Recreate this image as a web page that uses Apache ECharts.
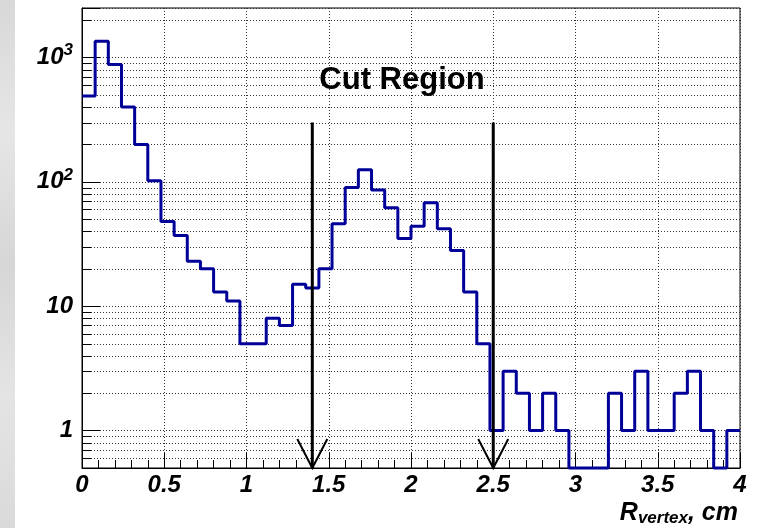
<!DOCTYPE html>
<html>
<head>
<meta charset="utf-8">
<script src="https://cdn.jsdelivr.net/npm/echarts@6/dist/echarts.min.js"></script>
<style>
html,body{margin:0;padding:0;background:#fff;}
#c{width:760px;height:528px;}
</style>
</head>
<body>
<div id="c"></div>
<script>
// ---- data ----
const xMin = 0, xMax = 4, binWidth = 0.08;
const counts = [490, 1350, 880, 400, 200, 102, 48, 37, 23, 20,
                13, 11, 5, 5, 8, 7, 15, 14, 20, 46,
                90, 125, 86, 62, 35, 44, 68, 42, 28, 13,
                5, 1, 3, 2, 1, 2, 1, 0, 0, 0,
                2, 1, 3, 1, 1, 2, 3, 1, 0, 1];
const yMin = 0.5, yMax = 2500;
const xTicks = [0, 0.5, 1, 1.5, 2, 2.5, 3, 3.5, 4];
const yDecades = [1, 10, 100, 1000];
const yMinor = [0.6, 0.7, 0.8, 0.9, 2, 3, 4, 5, 6, 7, 8, 9,
                20, 30, 40, 50, 60, 70, 80, 90,
                200, 300, 400, 500, 600, 700, 800, 900, 2000];
const cutPositions = [1.4, 2.5];
const arrowTop = 300;
const cutLabel = 'Cut Region';

// ---- build ----
const FONT = '"Liberation Sans", Arial, Helvetica, sans-serif';
const stepData = counts.map((c, i) => [xMin + i * binWidth, c > 0 ? c : yMin]);
stepData.push([xMax, counts[counts.length - 1] > 0 ? counts[counts.length - 1] : yMin]);

const chart = echarts.init(document.getElementById('c'), null, {renderer: 'canvas'});

function yLabel(v) {
  const l = Math.log10(v);
  const e = Math.round(l);
  if (Math.abs(l - e) > 1e-6) return '';
  if (yDecades.indexOf(Math.pow(10, e)) < 0) return '';
  if (e === 0) return '{n|1}';
  if (e === 1) return '{n|10}';
  return '{n|10}{s|' + e + '}';
}

const option = {
  animation: false,
  backgroundColor: '#ffffff',
  grid: {left: 82, right: 20, top: 8, bottom: 60, show: true, borderColor: '#000', borderWidth: 1, backgroundColor: '#fff'},
  xAxis: {
    type: 'value', min: xMin, max: xMax, interval: 0.5,
    axisLine: {show: true, onZero: false, lineStyle: {color: '#000', width: 1}},
    axisTick: {show: true, inside: true, length: 15, lineStyle: {color: '#000', width: 1}},
    minorTick: {show: true, splitNumber: 5, length: 8, lineStyle: {color: '#000', width: 1}},
    splitLine: {show: true, lineStyle: {color: '#333', type: [1, 2], width: 1}},
    axisLabel: {
      margin: 5, color: '#000', fontSize: 24, fontWeight: 'bold', fontStyle: 'italic', fontFamily: FONT,
      formatter: v => String(v)
    }
  },
  yAxis: {
    type: 'log', logBase: 10, min: yMin, max: yMax,
    axisLine: {show: true, lineStyle: {color: '#000', width: 1}},
    axisTick: {show: true, inside: true, length: 18, lineStyle: {color: '#000', width: 1}},
    splitLine: {show: true, lineStyle: {color: '#333', type: [1, 2], width: 1}},
    axisLabel: {
      margin: 9, color: '#000', formatter: yLabel,
      rich: {
        n: {fontSize: 24, fontWeight: 'bold', fontStyle: 'italic', fontFamily: FONT, color: '#000'},
        s: {fontSize: 17, fontWeight: 'bold', fontStyle: 'italic', fontFamily: FONT, color: '#000', padding: [0, 0, 14, 0]}
      }
    }
  },
  graphic: [
    {type: 'rect', left: 0, top: 0, z: -10, shape: {width: 15, height: 528},
     style: {fill: new echarts.graphic.LinearGradient(0, 0, 1, 1, [
       {offset: 0, color: '#d8d8d8'}, {offset: 0.25, color: '#e6e6e6'}, {offset: 0.5, color: '#d6d6d6'},
       {offset: 0.75, color: '#e4e4e4'}, {offset: 1, color: '#dadada'}])}},
    {type: 'text', x: 402, y: 80, z: 50,
     style: {text: cutLabel, font: 'bold 31px ' + FONT, fill: '#000', align: 'center', verticalAlign: 'middle'}},
    {type: 'text', x: 738, y: 527, z: 50,
     style: {
       text: '{r|R}{s|vertex}{r|, cm}', align: 'right', verticalAlign: 'bottom',
       rich: {
         r: {fontSize: 25, fontWeight: 'bold', fontStyle: 'italic', fontFamily: FONT, fill: '#000', color: '#000'},
         s: {fontSize: 17, fontWeight: 'bold', fontStyle: 'italic', fontFamily: FONT, fill: '#000', color: '#000', padding: [10, 0, 0, 0]}
       }
     }}
  ],
  series: [
    {
      type: 'custom', name: 'minorGrid', silent: true, z: 1,
      data: yMinor.map(v => [xMin, v]),
      renderItem: function (params, api) {
        const p = api.coord([xMin, api.value(1)]);
        const cs = params.coordSys;
        const y = Math.round(p[1]) + 0.5;
        return {type: 'group', children: [
          {type: 'line', shape: {x1: cs.x, y1: y, x2: cs.x + cs.width, y2: y},
           style: {stroke: '#333', lineDash: [1, 2], lineWidth: 1}},
          {type: 'line', shape: {x1: cs.x, y1: y, x2: cs.x + 9, y2: y},
           style: {stroke: '#000', lineWidth: 1}}
        ]};
      }
    },
    {
      type: 'line', name: 'hist', step: 'end', data: stepData, z: 5,
      showSymbol: false, symbol: 'none', clip: false,
      lineStyle: {color: '#000099', width: 3}
    },
    {
      type: 'custom', name: 'cuts', silent: true, z: 10,
      data: cutPositions.map(x => [x, arrowTop]),
      renderItem: function (params, api) {
        const t = api.coord([api.value(0), api.value(1)]);
        const b = api.coord([api.value(0), yMin]);
        return {type: 'group', children: [
          {type: 'line', shape: {x1: t[0], y1: t[1], x2: b[0], y2: b[1]},
           style: {stroke: '#000', lineWidth: 3}},
          {type: 'polyline', shape: {points: [[b[0] - 15, b[1] - 29], [b[0], b[1]], [b[0] + 15, b[1] - 29]]},
           style: {stroke: '#000', lineWidth: 2, fill: null}}
        ]};
      }
    }
  ]
};
chart.setOption(option);
</script>
</body>
</html>
